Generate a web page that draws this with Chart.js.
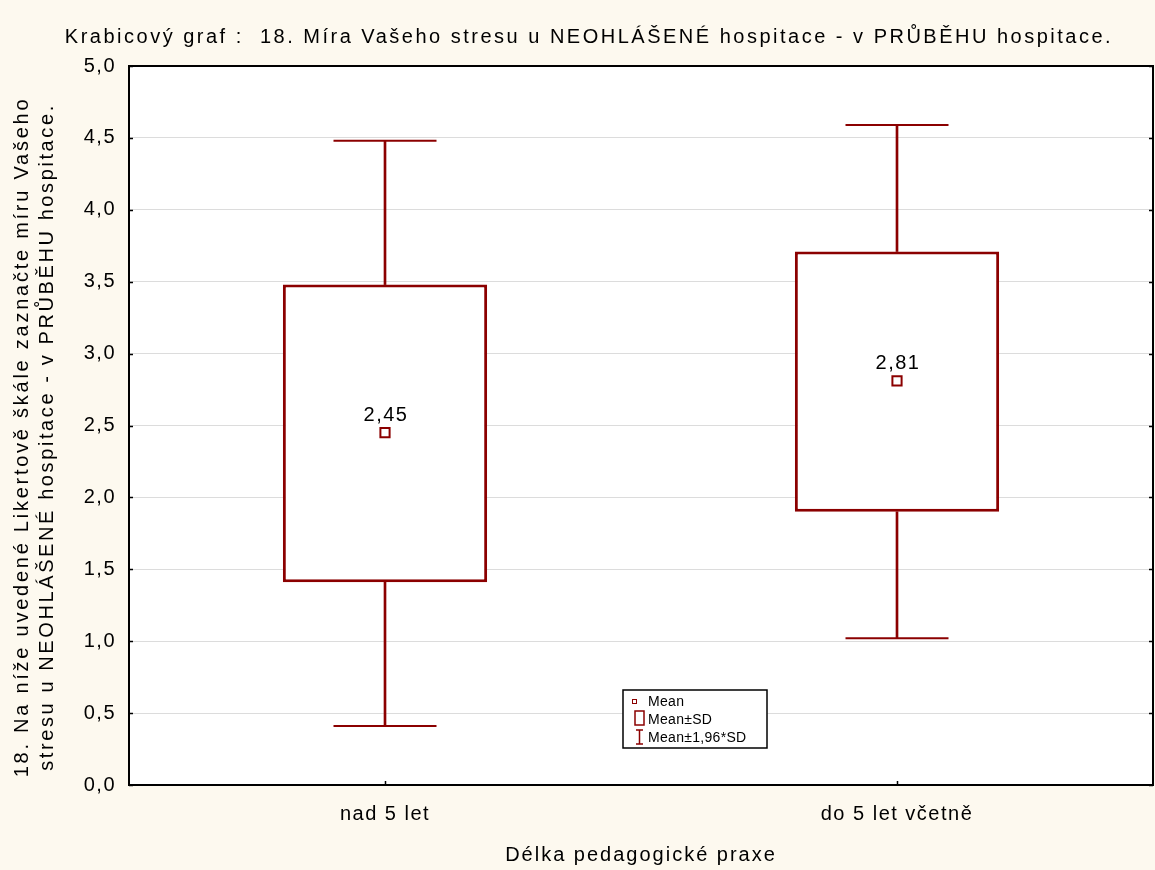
<!DOCTYPE html>
<html>
<head>
<meta charset="utf-8">
<script src="https://cdn.jsdelivr.net/npm/chart.js@4/dist/chart.umd.min.js"></script>
<style>
  html, body { margin: 0; padding: 0; background: #FDF9EF; }
  canvas { display: block; }
</style>
</head>
<body>
<canvas id="c" width="1155" height="870"></canvas>
<script>
// Box plot: mean, mean ± SD (box), mean ± 1.96*SD (whiskers)
const categories = ['nad 5 let', 'do 5 let včetně'];
const means = [2.45, 2.81];
const boxLow = [1.41, 1.90];
const boxHigh = [3.48, 3.71];
const whiskerLow = [0.41, 1.02];
const whiskerHigh = [4.48, 4.59];
const yTickValues = [0, 0.5, 1, 1.5, 2, 2.5, 3, 3.5, 4, 4.5, 5];
const yTickLabels = ['0,0', '0,5', '1,0', '1,5', '2,0', '2,5', '3,0', '3,5', '4,0', '4,5', '5,0'];
const meanLabels = ['2,45', '2,81'];
const legendItems = ['Mean', 'Mean±SD', 'Mean±1,96*SD'];

const titleText = 'Krabicový graf :  18. Míra Vašeho stresu u NEOHLÁŠENÉ hospitace - v PRŮBĚHU hospitace.';
const yTitle = ['18. Na níže uvedené Likertově škále zaznačte míru Vašeho',
                'stresu u NEOHLÁŠENÉ hospitace - v PRŮBĚHU hospitace.'];
const xTitle = 'Délka pedagogické praxe';

const RED = '#8B0000';
const FONT = "'Liberation Sans', Arial, sans-serif";
const SPACING = '1.5px';

Chart.defaults.font.family = FONT;
Chart.defaults.color = '#000000';

const letterSpacing = {
  id: 'letterSpacing',
  beforeUpdate(chart) { chart.ctx.letterSpacing = SPACING; },
  beforeDraw(chart) { chart.ctx.letterSpacing = SPACING; }
};

const decorations = {
  id: 'decorations',
  beforeDraw(chart) {
    const { ctx, chartArea: a } = chart;
    ctx.save();
    ctx.fillStyle = '#FDF9EF';
    ctx.fillRect(0, 0, chart.width, chart.height);
    ctx.fillStyle = '#FFFFFF';
    ctx.fillRect(a.left, a.top, a.right - a.left, a.bottom - a.top);
    ctx.restore();
  },
  afterDatasetsDraw(chart) {
    const { ctx, chartArea: a, scales } = chart;
    const x = scales.x, y = scales.y;
    ctx.save();
    ctx.letterSpacing = SPACING;

    // value labels above the mean markers
    const meanMeta = chart.getDatasetMeta(0);
    ctx.font = '20px ' + FONT;
    ctx.fillStyle = '#000';
    ctx.textAlign = 'center';
    ctx.textBaseline = 'middle';
    meanMeta.data.forEach((pt, i) => {
      ctx.fillText(meanLabels[i], pt.x + 1, pt.y - 17);
    });

    // plot frame
    ctx.strokeStyle = '#000';
    ctx.lineWidth = 2;
    ctx.strokeRect(a.left, a.top, a.right - a.left, a.bottom - a.top);

    // inward tick marks
    ctx.lineWidth = 1.5;
    ctx.beginPath();
    yTickValues.forEach(v => {
      const py = Math.round(y.getPixelForValue(v)) + 0.5;
      ctx.moveTo(a.left, py); ctx.lineTo(a.left + 4, py);
      ctx.moveTo(a.right, py); ctx.lineTo(a.right - 4, py);
    });
    categories.forEach((c, i) => {
      const px = Math.round(x.getPixelForValue(i)) + 0.5;
      ctx.moveTo(px, a.bottom); ctx.lineTo(px, a.bottom - 4);
    });
    ctx.stroke();

    // legend
    const lx = a.left + 494, ly = a.top + 624, lw = 144, lh = 58;
    ctx.fillStyle = '#FFFFFF';
    ctx.fillRect(lx, ly, lw, lh);
    ctx.strokeStyle = '#000';
    ctx.lineWidth = 1.5;
    ctx.strokeRect(lx, ly, lw, lh);

    ctx.strokeStyle = RED;
    ctx.fillStyle = '#FFFFFF';
    ctx.lineWidth = 1;
    ctx.strokeRect(lx + 9.5, ly + 9.5, 4, 4);
    ctx.lineWidth = 1.5;
    ctx.fillRect(lx + 12, ly + 21, 9, 14);
    ctx.strokeRect(lx + 12, ly + 21, 9, 14);
    ctx.beginPath();
    ctx.moveTo(lx + 16.5, ly + 40); ctx.lineTo(lx + 16.5, ly + 54);
    ctx.moveTo(lx + 13, ly + 40); ctx.lineTo(lx + 20, ly + 40);
    ctx.moveTo(lx + 13, ly + 54); ctx.lineTo(lx + 20, ly + 54);
    ctx.stroke();

    ctx.letterSpacing = '0.3px';
    ctx.font = '14px ' + FONT;
    ctx.fillStyle = '#000';
    ctx.textAlign = 'left';
    ctx.textBaseline = 'middle';
    legendItems.forEach((t, i) => ctx.fillText(t, lx + 25, ly + 12 + i * 18));

    // chart title
    ctx.font = '20px ' + FONT;
    ctx.textAlign = 'center';
    ctx.letterSpacing = '2.5px';
    ctx.fillText(titleText, 589, 37);

    // x axis title
    ctx.letterSpacing = '2px';
    ctx.fillText(xTitle, (a.left + a.right) / 2, 855);

    // y axis title (two rotated lines)
    ctx.letterSpacing = '2.75px';
    ctx.translate(0, 437);
    ctx.rotate(-Math.PI / 2);
    ctx.fillText(yTitle[0], 0, 22.5);
    ctx.letterSpacing = '2.6px';
    ctx.fillText(yTitle[1], 0, 47.5);
    ctx.restore();
  }
};

new Chart(document.getElementById('c'), {
  type: 'bar',
  data: {
    labels: categories,
    datasets: [
      {
        type: 'line', label: 'Mean', data: means, showLine: false, order: 0,
        pointStyle: 'rect', pointRadius: 6.5, pointBorderWidth: 2,
        pointBorderColor: RED, pointBackgroundColor: '#FFFFFF'
      },
      {
        label: 'Mean±SD', data: boxLow.map((v, i) => [v, boxHigh[i]]), order: 1,
        backgroundColor: '#FFFFFF', borderColor: RED, borderWidth: 3,
        borderSkipped: false, grouped: false, barPercentage: 0.399, categoryPercentage: 1
      },
      {
        type: 'line', label: 'upper cap', data: whiskerHigh, showLine: false, order: 2,
        pointStyle: 'line', pointRadius: 51.5, pointBorderWidth: 2, pointBorderColor: RED
      },
      {
        type: 'line', label: 'lower cap', data: whiskerLow, showLine: false, order: 2,
        pointStyle: 'line', pointRadius: 51.5, pointBorderWidth: 2, pointBorderColor: RED
      },
      {
        label: 'upper whisker', data: boxHigh.map((v, i) => [v, whiskerHigh[i]]), order: 3,
        backgroundColor: RED, borderWidth: 0, barThickness: 2, grouped: false
      },
      {
        label: 'lower whisker', data: whiskerLow.map((v, i) => [v, boxLow[i]]), order: 3,
        backgroundColor: RED, borderWidth: 0, barThickness: 2, grouped: false
      }
    ]
  },
  options: {
    responsive: false,
    animation: false,
    events: [],
    layout: { autoPadding: false, padding: { top: 66, right: 2, bottom: 0, left: 0 } },
    plugins: {
      legend: { display: false },
      title: { display: false },
      tooltip: { enabled: false }
    },
    scales: {
      x: {
        type: 'category',
        offset: true,
        grid: { display: false, drawTicks: false },
        border: { display: false },
        ticks: { font: { size: 20 }, color: '#000', padding: 17, maxRotation: 0 },
        afterFit(scale) {
          scale.height = 85;
          scale.paddingLeft = 0;
          scale.paddingRight = 0;
        }
      },
      y: {
        min: 0, max: 5,
        afterBuildTicks(scale) { scale.ticks = yTickValues.map(v => ({ value: v })); },
        grid: {
          drawTicks: false,
          color: c => (c.tick && (c.tick.value === 0 || c.tick.value === 5)) ? 'rgba(0,0,0,0)' : '#DCDCDC',
          lineWidth: 1
        },
        border: { display: false },
        ticks: {
          font: { size: 20 }, color: '#000', padding: 13,
          callback: (v) => yTickLabels[yTickValues.indexOf(v)]
        },
        afterFit(scale) {
          scale.width = 129;
          scale.paddingTop = 0;
          scale.paddingBottom = 0;
        }
      }
    }
  },
  plugins: [letterSpacing, decorations]
});
</script>
</body>
</html>
